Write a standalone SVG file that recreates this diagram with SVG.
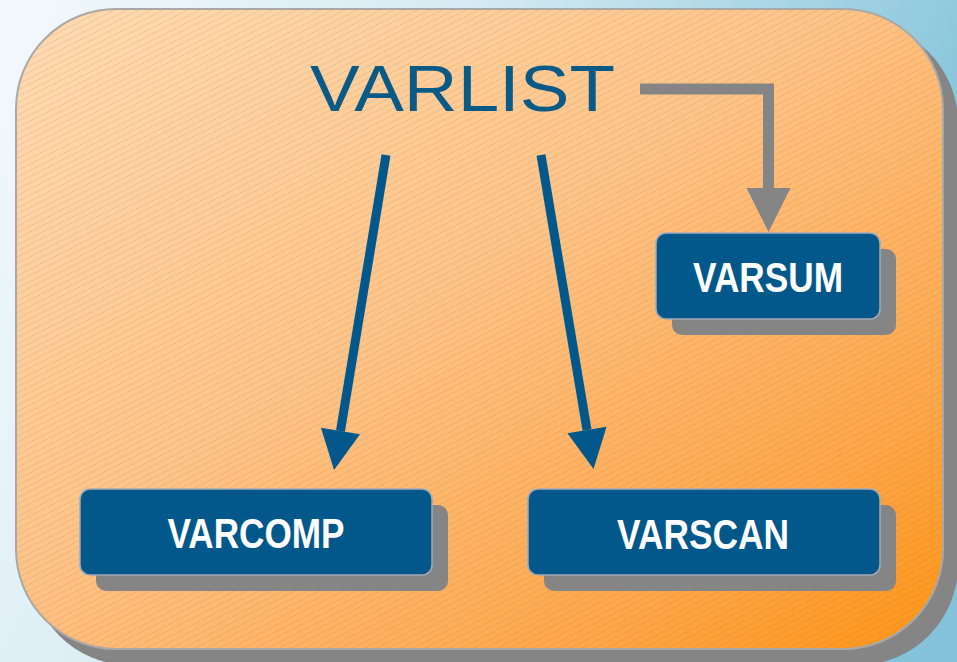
<svg xmlns="http://www.w3.org/2000/svg" width="957" height="662" viewBox="0 0 957 662">
  <defs>
    <linearGradient id="bg" x1="0" y1="0" x2="1" y2="0.3">
      <stop offset="0" stop-color="#f3f9fc"/>
      <stop offset="0.45" stop-color="#d6ebf3"/>
      <stop offset="1" stop-color="#84c3da"/>
    </linearGradient>
    <linearGradient id="panelFill" x1="0" y1="0" x2="1" y2="1">
      <stop offset="0" stop-color="#ffdcb2"/>
      <stop offset="0.45" stop-color="#ffc386"/>
      <stop offset="0.8" stop-color="#ffa648"/>
      <stop offset="1" stop-color="#ff9412"/>
    </linearGradient>
    <pattern id="hatch" width="5.5" height="5.5" patternUnits="userSpaceOnUse" patternTransform="rotate(-27)">
      <line x1="0" y1="0.5" x2="5.5" y2="0.5" stroke="#8c7a68" stroke-width="0.8" stroke-opacity="0.35" stroke-dasharray="1.2 0.8"/>
    </pattern>
    <marker id="headBlue" viewBox="0 0 10 10" refX="0" refY="5" markerWidth="4.6" markerHeight="4.4" markerUnits="strokeWidth" orient="auto">
      <path d="M0,0 L10,5 L0,10 Z" fill="#02588a"/>
    </marker>
    <marker id="headGray" viewBox="0 0 10 10" refX="0" refY="5" markerWidth="4" markerHeight="4.2" markerUnits="strokeWidth" orient="auto">
      <path d="M0,0 L10,5 L0,10 Z" fill="#858585"/>
    </marker>
  </defs>
  <style>
    .shadow { fill: #858585; }
    .box { fill: #02588a; stroke: #a3aab2; stroke-width: 1.5; }
    .label { font-family: "Liberation Sans Narrow", "Liberation Sans", Arial, sans-serif; font-weight: bold; font-size: 42px; fill: #ffffff; text-anchor: middle; }
    .title { font-family: "Liberation Sans", Arial, sans-serif; font-size: 64px; fill: #0a5a88; }
    .blue { stroke: #02588a; stroke-width: 9; fill: none; }
    .gray { stroke: #858585; stroke-width: 11; fill: none; }
  </style>

  <!-- backdrop -->
  <rect x="0" y="0" width="957" height="662" fill="url(#bg)"/>

  <!-- container panel with drop shadow -->
  <g id="panel">
    <rect x="30" y="23" width="928" height="642" rx="100" class="shadow"/>
    <rect x="16" y="9" width="927" height="640" rx="100" fill="url(#panelFill)" stroke="#a8a8a8" stroke-width="2"/>
    <rect x="17" y="10" width="925" height="638" rx="99" fill="url(#hatch)"/>
  </g>

  <!-- connectors -->
  <g id="connectors">
    <line x1="386" y1="155" x2="340.5" y2="431" class="blue" marker-end="url(#headBlue)"/>
    <line x1="541" y1="155" x2="587" y2="430" class="blue" marker-end="url(#headBlue)"/>
    <polyline points="640,89 768.5,89 768.5,188" class="gray" marker-end="url(#headGray)"/>
  </g>

  <g id="varlist">
    <text x="310" y="111" class="title" textLength="305" lengthAdjust="spacingAndGlyphs">VARLIST</text>
  </g>

  <g id="varsum">
    <rect x="672" y="249" width="224" height="86" rx="10" class="shadow"/>
    <rect x="656" y="233" width="224" height="86" rx="10" class="box"/>
    <text x="768" y="292" class="label" textLength="150" lengthAdjust="spacingAndGlyphs">VARSUM</text>
  </g>

  <g id="varcomp">
    <rect x="96" y="505" width="352" height="86" rx="10" class="shadow"/>
    <rect x="80" y="489" width="352" height="86" rx="10" class="box"/>
    <text x="256" y="548" class="label" textLength="177" lengthAdjust="spacingAndGlyphs">VARCOMP</text>
  </g>

  <g id="varscan">
    <rect x="544" y="505" width="352" height="86" rx="10" class="shadow"/>
    <rect x="528" y="489" width="352" height="86" rx="10" class="box"/>
    <text x="703" y="549" class="label" textLength="172" lengthAdjust="spacingAndGlyphs">VARSCAN</text>
  </g>
</svg>
